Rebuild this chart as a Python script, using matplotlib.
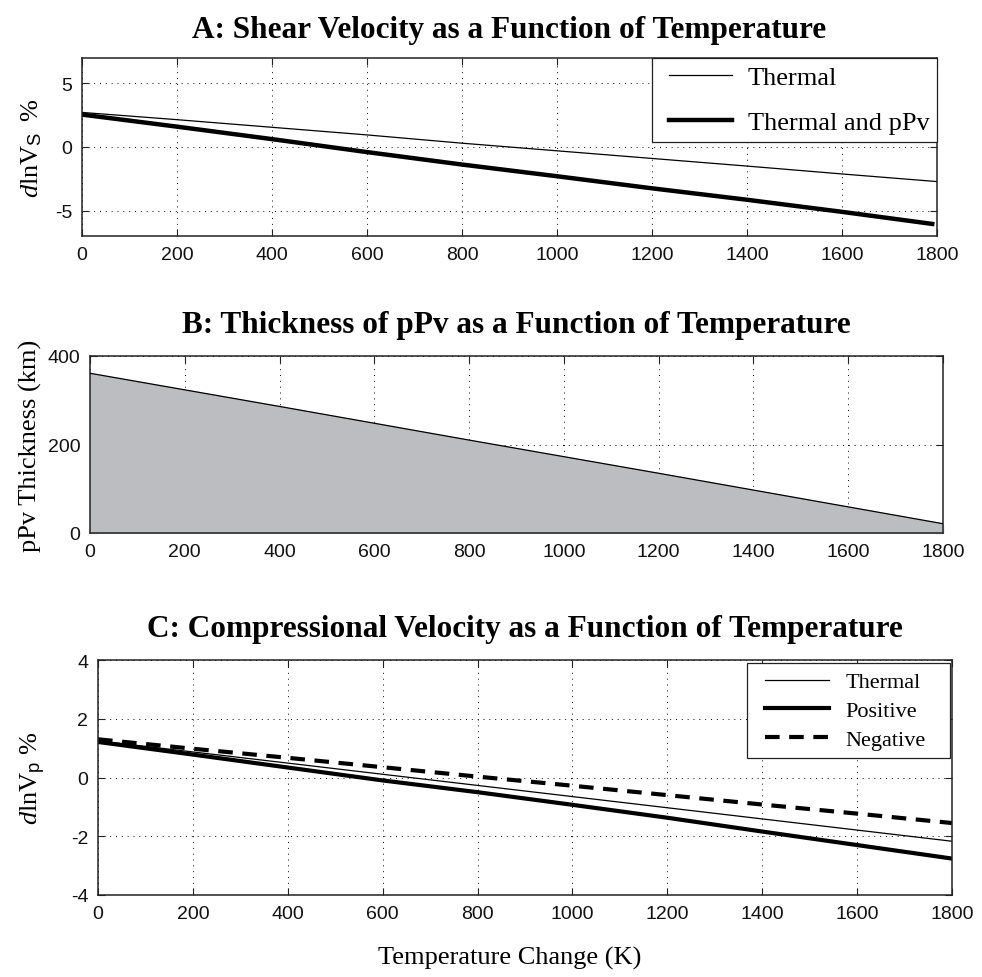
import matplotlib
matplotlib.use("Agg")
import matplotlib.pyplot as plt
from matplotlib.path import Path
import numpy as np

plt.rcParams['font.family'] = 'Liberation Sans'
plt.rcParams['axes.unicode_minus'] = False
plt.rcParams['mathtext.fontset'] = 'custom'
plt.rcParams['mathtext.rm'] = 'Liberation Serif'
plt.rcParams['mathtext.it'] = 'Liberation Serif:italic'
plt.rcParams['mathtext.sf'] = 'Liberation Sans'

# panel A: shear velocity (dlnVs %)
temp_a = [0, 200, 400, 600, 800, 1000, 1200, 1400, 1600, 1800]
vs_thermal = [2.72, 2.15, 1.55, 0.95, 0.3, -0.3, -0.9, -1.5, -2.12, -2.72]
temp_a2 = [0, 200, 400, 600, 800, 1000, 1200, 1400, 1600, 1790]
vs_ppv = [2.55, 1.6, 0.62, -0.4, -1.38, -2.3, -3.25, -4.15, -5.1, -6.05]

# panel B: pPv thickness (km)
temp_b = [0, 400, 800, 1200, 1800]
thickness = [361, 286, 210, 135, 21]

# panel C: compressional velocity (dlnVp %)
temp_c = [0, 200, 400, 600, 800, 1000, 1200, 1400, 1600, 1800]
vp_thermal = [1.25, 0.87, 0.49, 0.11, -0.27, -0.65, -1.03, -1.41, -1.79, -2.17]
vp_positive = [1.21, 0.78, 0.34, -0.1, -0.5, -0.93, -1.37, -1.84, -2.3, -2.76]
vp_negative = [1.3, 0.98, 0.67, 0.35, 0.03, -0.28, -0.6, -0.92, -1.23, -1.55]

xticks = [0, 200, 400, 600, 800, 1000, 1200, 1400, 1600, 1800]

W, H = 982, 978
fig = plt.figure(figsize=(W / 100, H / 100), dpi=100)


def px_axes(left, right, top, bottom):
    return fig.add_axes([left / W, 1 - bottom / H, (right - left) / W, (bottom - top) / H])


def style(ax, yticks, ylim):
    ax.set_xlim(0, 1800)
    ax.set_ylim(*ylim)
    ax.set_xticks(xticks)
    ax.set_yticks(yticks)
    ax.tick_params(direction='in', top=True, right=True, length=5, width=0.8,
                   labelsize=14, colors='#222222', labelcolor='#111111', pad=7)
    ax.grid(True, color='k', linestyle=(0, (1, 5)), linewidth=0.7)
    for s in ax.spines.values():
        s.set_linewidth(1.1)
        s.set_color('#222222')


def wide_box(left, right):
    # square legend frame with extra room left/right (in font-size units)
    def box(x0, y0, width, height, mutation_size):
        x0 = x0 - left * mutation_size
        x1 = x0 + width + (left + right) * mutation_size
        y1 = y0 + height
        return Path([(x0, y0), (x1, y0), (x1, y1), (x0, y1), (x0, y0)], closed=True)
    return box


title_kw = dict(fontfamily='Liberation Serif', fontweight='bold', fontsize=22.5)
label_kw = dict(fontfamily='Liberation Serif', fontsize=19)

# A
ax1 = px_axes(82, 937, 59, 237)
style(ax1, [-5, 0, 5], (-7, 7))
ax1.plot(temp_a, vs_thermal, color='k', lw=0.9, label='Thermal')
ax1.plot(temp_a2, vs_ppv, color='k', lw=3.2, label='Thermal and pPv')
ax1.set_title('A: Shear Velocity as a Function of Temperature', pad=15, **title_kw)
ax1.set_ylabel(r'$d\mathrm{lnV}_{\mathsf{S}}\;\;\%$', **label_kw)
ax1.yaxis.set_label_coords(-0.045, 0.5)
leg = ax1.legend(loc='upper right', borderaxespad=0, fancybox=False, framealpha=1,
                 edgecolor='#222222', prop={'family': 'Liberation Serif', 'size': 19},
                 handlelength=2.4, handletextpad=0.6, labelspacing=0.83,
                 borderpad=0.28)
leg.get_frame().set_linewidth(0.9)
leg.get_frame().set_boxstyle(wide_box(0.36, 0.0))

# B
ax2 = px_axes(90, 943, 357, 534)
style(ax2, [0, 200, 400], (0, 400))
ax2.fill_between(temp_b, thickness, 0, color='#bcbdc1', zorder=2)
ax2.plot(temp_b, thickness, color='k', lw=0.9, zorder=3)
ax2.set_title('B: Thickness of pPv as a Function of Temperature', pad=17, **title_kw)
ax2.set_ylabel('pPv Thickness (km)', **label_kw)
ax2.yaxis.set_label_coords(-0.056, 0.5)

# C
ax3 = px_axes(98, 952, 661, 896)
style(ax3, [-4, -2, 0, 2, 4], (-4, 4))
ax3.plot(temp_c, vp_thermal, color='k', lw=0.9, label='Thermal')
ax3.plot(temp_c, vp_positive, color='k', lw=3.0, label='Positive')
ax3.plot(temp_c, vp_negative, color='k', lw=3.0, dashes=(3.5, 2.3), label='Negative')
ax3.set_title('C: Compressional Velocity as a Function of Temperature', pad=17, **title_kw)
ax3.set_ylabel(r'$d\mathrm{lnV}_{\mathsf{p}}\ \%$', **label_kw)
ax3.yaxis.set_label_coords(-0.058, 0.5)
leg = ax3.legend(loc='upper right', bbox_to_anchor=((935 - 98) / 854, 1 - 3 / 235),
                 borderaxespad=0, fancybox=False, framealpha=1,
                 edgecolor='#222222', prop={'family': 'Liberation Serif', 'size': 16},
                 handlelength=2.9, handletextpad=0.75, labelspacing=0.36,
                 borderpad=0.4)
leg.get_frame().set_linewidth(0.9)
leg.get_frame().set_boxstyle(wide_box(0.42, 0.68))

fig.text(510 / W, 1 - 958 / H, 'Temperature Change (K)', ha='center', va='center',
         **label_kw)

fig.savefig('out.png', dpi=100)
